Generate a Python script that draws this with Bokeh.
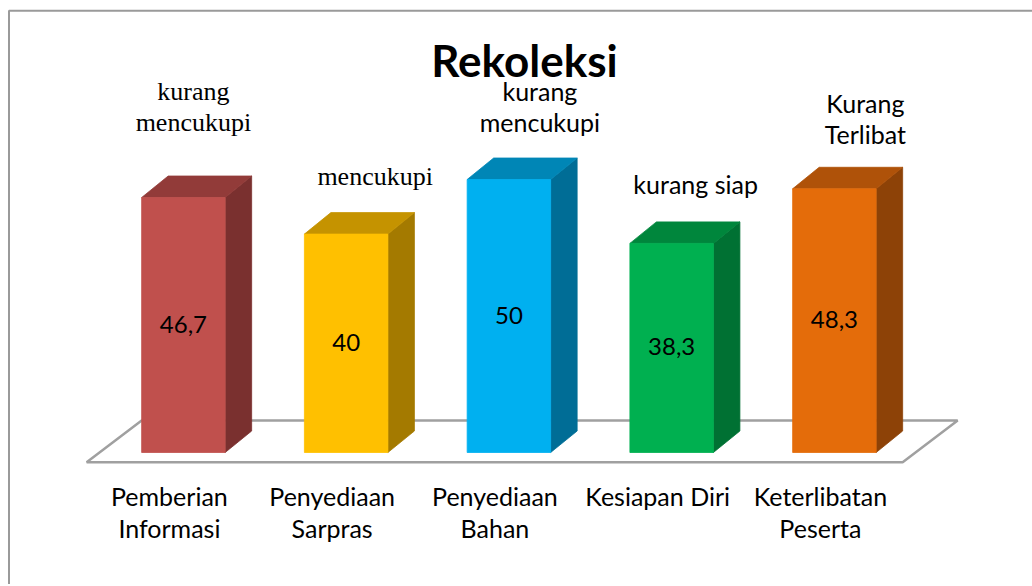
from bokeh.plotting import figure
from bokeh.models import Range1d
from bokeh.embed import file_html
from bokeh.resources import INLINE
from bokeh.core.properties import value

# ---------------- data ----------------
categories = ["Pemberian\nInformasi", "Penyediaan\nSarpras", "Penyediaan\nBahan",
              "Kesiapan Diri", "Keterlibatan\nPeserta"]
scores = [46.7, 40, 50, 38.3, 48.3]
notes = ["kurang\nmencukupi", "mencukupi", "kurang\nmencukupi", "kurang siap", "Kurang\nTerlibat"]
title_text = "Rekoleksi"

# ---------------- style ----------------
front_colors = ["#C0504D", "#FFC000", "#00B0F0", "#00B050", "#E46C0A"]
top_colors = ["#923B39", "#C59300", "#0086B6", "#00863C", "#AF5209"]
side_colors = ["#7A302F", "#A47A00", "#006D96", "#007133", "#8D4207"]
note_fonts = ["Liberation Serif", "Liberation Serif", "Lato", "Lato", "Lato"]
note_sizes = ["26px", "26px", "25px", "25px", "25px"]
note_dx_px = [10, 29, 31, 24, 31]
note_gap_px = [53.3, 36, 36, 37.4, 32.8]   # centre of last line above back-top edge

W, H = 1032, 584
PXX = 162.75      # px per category
PXY = 5.46        # px per value unit
X0 = 2 - 508.4 / PXX
Y_TOP = 452 / PXY


def dx(px):
    return px / PXX


def dy(px):
    return px / PXY


p = figure(width=W, height=H, output_backend="svg", toolbar_location=None,
           x_range=Range1d(X0, X0 + W / PXX), y_range=Range1d(Y_TOP - H / PXY, Y_TOP),
           min_border=0, outline_line_color=None)
p.xaxis.visible = False
p.yaxis.visible = False
p.grid.visible = False
p.background_fill_color = "white"
p.border_fill_color = "white"

n = len(scores)
half = dx(83.5) / 2
DX, DY = dx(26.5), dy(21.5)

# border of the chart area (left and top edges)
bx = X0 + dx(8.5)
by = Y_TOP - dy(10.3)
p.line(x=[bx, bx, X0 + dx(W + 20)], y=[Y_TOP - dy(H + 20), by, by],
       line_color="#9A9A9A", line_width=2)

# floor
fy, byk = -dy(9.7), dy(32)
lf = 0 - half - dx(55)
rf = (n - 1) + half + dx(26.5)
fdx = dx(55)
p.patch([lf, rf, rf + fdx, lf + fdx], [fy, fy, byk, byk], fill_color=None,
        line_color="#A0A0A0", line_width=2.5)

# bars (front, top, side)
fx, fys, tx, tys, sx, sys = [], [], [], [], [], []
for i, v in enumerate(scores):
    l, r = i - half, i + half
    fx.append([l, r, r, l]); fys.append([0, 0, v, v])
    tx.append([l, r, r + DX, l + DX]); tys.append([v, v, v + DY, v + DY])
    sx.append([r, r + DX, r + DX, r]); sys.append([0, DY, v + DY, v])
p.patches(sx, sys, fill_color=side_colors, line_color=side_colors, line_width=0.8)
p.patches(tx, tys, fill_color=top_colors, line_color=top_colors, line_width=0.8)
p.patches(fx, fys, fill_color=front_colors, line_color=front_colors, line_width=0.8)

# value labels
p.text(x=list(range(n)), y=[v / 2 + dy(1) for v in scores],
       text=[f"{v:g}".replace(".", ",") for v in scores],
       text_font=value("Lato"), text_font_size=value("24px"), text_color="black",
       text_align="center", text_baseline="middle")

# category labels
line1 = [c.split("\n")[0] for c in categories]
line2 = [c.split("\n")[1] if "\n" in c else "" for c in categories]
cx = [i - dx(14) for i in range(n)]
p.text(x=cx, y=[-dy(43)] * n, text=line1, text_font=value("Lato"),
       text_font_size=value("25px"), text_color="black", text_align="center",
       text_baseline="middle")
p.text(x=cx, y=[-dy(75)] * n, text=line2, text_font=value("Lato"),
       text_font_size=value("25px"), text_color="black", text_align="center",
       text_baseline="middle")

# notes above bars
for i, (note, v) in enumerate(zip(notes, scores)):
    lines = note.split("\n")
    base = v + DY + dy(note_gap_px[i])
    for k, t in enumerate(reversed(lines)):
        p.text(x=[i + dx(note_dx_px[i])], y=[base + dy(31) * k], text=[t],
               text_font=value(note_fonts[i]), text_font_size=value(note_sizes[i]),
               text_color="black", text_align="center", text_baseline="middle")

# title
p.text(x=[2 + dx(15.6)], y=[dy(452 - 59.2)], text=[title_text], text_font=value("Lato"),
       text_font_size=value("44px"), text_font_style="bold", text_color="black",
       text_align="center", text_baseline="middle")

open("out.html", "w").write(file_html(p, INLINE))
